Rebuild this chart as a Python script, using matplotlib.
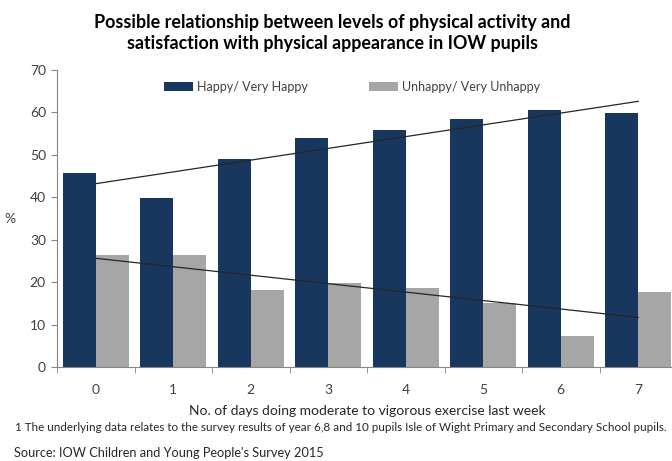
import numpy as np
import matplotlib.pyplot as plt

days = ['0', '1', '2', '3', '4', '5', '6', '7']
happy = [45.7, 39.8, 49.1, 54.0, 55.8, 58.5, 60.5, 59.9]
unhappy = [26.5, 26.3, 18.1, 19.7, 18.7, 15.0, 7.2, 17.7]

navy = '#17375E'
grey = '#A6A6A6'
text_col = '#404040'

plt.rcParams['font.family'] = ['Lato', 'DejaVu Sans']

fig = plt.figure(figsize=(6.72, 4.61), dpi=100)
ax = fig.add_axes([57 / 672, 1 - 367 / 461, 620 / 672, 297 / 461])

x = np.arange(len(days))
w = 0.427
ax.bar(x - w / 2, happy, w, color=navy, label='Happy/ Very Happy')
ax.bar(x + w / 2, unhappy, w, color=grey, label='Unhappy/ Very Unhappy')

# linear trend lines through each series, drawn from category centres
for vals in (happy, unhappy):
    m, b = np.polyfit(x + 1, vals, 1)
    ax.plot([x[0], x[-1]], [m * 1 + b, m * 8 + b], color='#262626', lw=0.9)

ax.set_xlim(-0.5, 7.5)
ax.set_ylim(0, 70)
ax.set_yticks(range(0, 71, 10))
ax.set_xticks(x)
ax.set_xticklabels(days)
ax.set_xticks(np.arange(-0.5, 7.6, 1), minor=True)
ax.tick_params(axis='x', which='major', length=0, pad=12, labelsize=10, labelcolor=text_col)
ax.tick_params(axis='x', which='minor', length=4, color='#868686', direction='out')
ax.tick_params(axis='y', length=4, color='#868686', labelsize=10, labelcolor=text_col, pad=4)

for s in ('top', 'right'):
    ax.spines[s].set_visible(False)
for s in ('left', 'bottom'):
    ax.spines[s].set_color('#868686')
    ax.spines[s].set_linewidth(0.8)

ax.set_ylabel('%', rotation=0, fontsize=10, color=text_col, labelpad=14, va='center')
ax.set_xlabel('No. of days doing moderate to vigorous exercise last week',
              fontsize=10, color='#262626', labelpad=7)

ax.legend(loc='center', bbox_to_anchor=(0.476, 0.943), ncol=2, frameon=False,
          fontsize=9, handlelength=2.3, handleheight=0.8, columnspacing=4.9,
          handletextpad=0.3, labelcolor=text_col)

fig.text(0.495, 1 - 33 / 461,
         'Possible relationship between levels of physical activity and\n'
         'satisfaction with physical appearance in IOW pupils',
         ha='center', va='center', fontsize=12.9, fontweight='bold', linespacing=1.3)

fig.text(15 / 672, 1 - 427 / 461,
         '1 The underlying data relates to the survey results of year 6,8 and 10 pupils '
         'Isle of Wight Primary and Secondary School pupils.',
         ha='left', va='center', fontsize=8.4, color='#262626')
fig.text(14 / 672, 1 - 453 / 461, "Source: IOW Children and Young People's Survey 2015",
         ha='left', va='center', fontsize=9.2, color='#262626')

fig.savefig('out.png', dpi=100)
